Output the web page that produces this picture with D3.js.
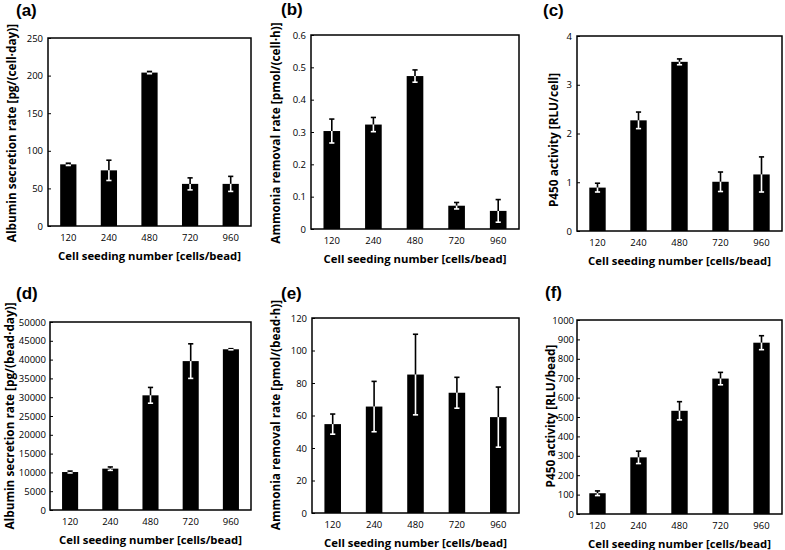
<!DOCTYPE html>
<html><head><meta charset="utf-8">
<script src="https://cdn.jsdelivr.net/npm/d3@7"></script>
<style>body{margin:0;background:#fff}svg{display:block}</style>
</head><body>
<script>
// ---- data ----
const categories = ["120","240","480","720","960"];
const albuminPerCell = [82, 74, 204, 56, 56];
const albuminPerCellErr = [1.5, 13.5, 1.5, 8, 10];
const ammoniaPerCell = [0.303, 0.323, 0.473, 0.072, 0.056];
const ammoniaPerCellErr = [0.037, 0.022, 0.019, 0.010, 0.035];
const p450PerCell = [0.89, 2.27, 3.47, 1.01, 1.16];
const p450PerCellErr = [0.09, 0.17, 0.06, 0.2, 0.36];
const albuminPerBead = [10100, 11000, 30500, 39600, 42750];
const albuminPerBeadErr = [250, 450, 2100, 4600, 150];
const ammoniaPerBead = [54.7, 65.5, 85.2, 74.0, 59.0];
const ammoniaPerBeadErr = [6.2, 15.5, 24.8, 9.5, 18.5];
const p450PerBead = [107, 292, 532, 698, 883];
const p450PerBeadErr = [12, 32, 47, 32, 36];

const ticksA = [0,50,100,150,200,250];
const ticksB = [0,0.1,0.2,0.3,0.4,0.5,0.6];
const ticksC = [0,1,2,3,4];
const ticksD = [0,5000,10000,15000,20000,25000,30000,35000,40000,45000,50000];
const ticksE = [0,20,40,60,80,100,120];
const ticksF = [0,100,200,300,400,500,600,700,800,900,1000];

const xTitle = "Cell seeding number [cells/bead]";

const panels = [
  {label:"(a)", vals:albuminPerCell, err:albuminPerCellErr, ticks:ticksA, fmt:d=>d, ytitle:"Albumin secretion rate [pg/(cell·day)]", box:[48,38,251,226], lab:[16,16], yt:[11,133], pad:5},
  {label:"(b)", vals:ammoniaPerCell, err:ammoniaPerCellErr, ticks:ticksB, fmt:d=>d===0?"0":d3.format(".1f")(d), ytitle:"Ammonia removal rate [pmol/(cell·h)]", box:[311,35,519,229], lab:[281,15], yt:[275,133], pad:5},
  {label:"(c)", vals:p450PerCell, err:p450PerCellErr, ticks:ticksC, fmt:d=>d, ytitle:"P450 activity [RLU/cell]", box:[577,36,782,231], lab:[543,16], yt:[553,140], pad:5},
  {label:"(d)", vals:albuminPerBead, err:albuminPerBeadErr, ticks:ticksD, fmt:d=>d, ytitle:"Albumin secretion rate [pg/(bead·day)]", box:[50,322,251,510], lab:[16,299], yt:[9,416], pad:4},
  {label:"(e)", vals:ammoniaPerBead, err:ammoniaPerBeadErr, ticks:ticksE, fmt:d=>d, ytitle:"Ammonia removal rate [pmol/(bead·h)]", box:[312,318,519,513], lab:[281,299], yt:[275,415], pad:5},
  {label:"(f)", vals:p450PerBead, err:p450PerBeadErr, ticks:ticksF, fmt:d=>d, ytitle:"P450 activity [RLU/bead]", box:[577,320,782,514], lab:[545,298], yt:[550,416], pad:3},
];

const svg = d3.select("body").append("svg").attr("width",785).attr("height",550);
const tickFont = "'Open Sans', sans-serif";
const titleFont = "'Open Sans', sans-serif";

panels.forEach(p => {
  const [x0,y0,x1,y1] = p.box;
  const x = d3.scaleBand().domain(categories).range([x0,x1]).paddingInner(0.6).paddingOuter(0.3);
  const y = d3.scaleLinear().domain([p.ticks[0], p.ticks[p.ticks.length-1]]).range([y1,y0]);
  const g = svg.append("g");

  // bars
  g.selectAll("rect.bar").data(p.vals).join("rect")
    .attr("x",(d,i)=>x(categories[i])).attr("width",x.bandwidth())
    .attr("y",d=>y(d)).attr("height",d=>y1-y(d)).attr("fill","#000");

  // error bars
  const cw = 2.6;
  p.vals.forEach((v,i)=>{
    const cx = x(categories[i]) + x.bandwidth()/2;
    const top = y(v+p.err[i]), bot = y(v-p.err[i]), mid = y(v);
    g.append("line").attr("x1",cx).attr("x2",cx).attr("y1",top).attr("y2",mid).attr("stroke","#000").attr("stroke-width",1.6);
    g.append("line").attr("x1",cx-cw).attr("x2",cx+cw).attr("y1",top).attr("y2",top).attr("stroke","#000").attr("stroke-width",1.6);
    g.append("line").attr("x1",cx).attr("x2",cx).attr("y1",mid).attr("y2",bot).attr("stroke","#fff").attr("stroke-width",1.6);
    g.append("line").attr("x1",cx-cw).attr("x2",cx+cw).attr("y1",bot).attr("y2",bot).attr("stroke","#fff").attr("stroke-width",1.6);
  });

  // y axis (inner ticks)
  const ya = d3.axisLeft(y).tickValues(p.ticks).tickSize(-3).tickPadding(p.pad).tickFormat(p.fmt);
  const yg = g.append("g").attr("transform",`translate(${x0},0)`).call(ya);
  yg.select(".domain").remove();
  yg.selectAll("line").attr("stroke","#000").attr("stroke-width",1);
  yg.selectAll("text").attr("font-family",tickFont).attr("font-size",9.5).attr("fill","#000");

  // x axis labels
  const xa = d3.axisBottom(x).tickSize(0).tickPadding(8);
  const xg = g.append("g").attr("transform",`translate(0,${y1})`).call(xa);
  xg.select(".domain").remove();
  xg.selectAll("text").attr("font-family",tickFont).attr("font-size",9.5).attr("fill","#000");

  // frame
  g.append("rect").attr("x",x0).attr("y",y0).attr("width",x1-x0).attr("height",y1-y0)
    .attr("fill","none").attr("stroke","#000").attr("stroke-width",1.5);

  // x title
  g.append("text").attr("x",(x0+x1)/2).attr("y",y1+34).attr("text-anchor","middle")
    .attr("font-family",titleFont).attr("font-weight","bold").attr("font-size",11.3).text(xTitle);

  // y title
  g.append("text").attr("transform",`translate(${p.yt[0]},${p.yt[1]}) rotate(-90)`)
    .attr("text-anchor","middle").attr("dominant-baseline","central").attr("font-family",titleFont).attr("font-weight","bold").attr("font-size",11.8).text(p.ytitle);

  // panel label
  g.append("text").attr("x",p.lab[0]).attr("y",p.lab[1]).attr("font-family","'Liberation Sans', Arial, sans-serif")
    .attr("font-weight","bold").attr("font-size",17).text(p.label);
});
</script>
</body></html>
